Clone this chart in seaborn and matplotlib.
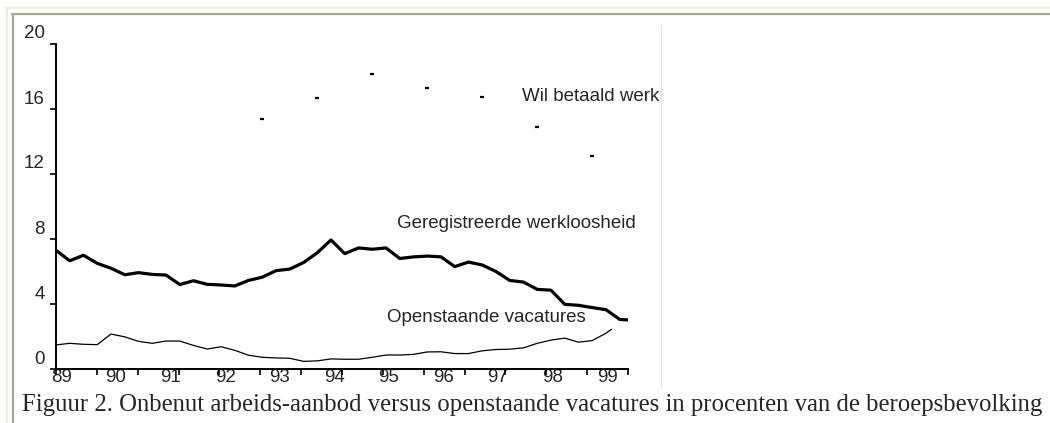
import numpy as np
import pandas as pd
import matplotlib
matplotlib.use("Agg")
import matplotlib.pyplot as plt
import matplotlib.transforms as mtransforms
from matplotlib.lines import Line2D
import seaborn as sns

# quarterly time axis (years)
quarters = [1989.0, 1989.25, 1989.5, 1989.75, 1990.0, 1990.25, 1990.5, 1990.75,
            1991.0, 1991.25, 1991.5, 1991.75, 1992.0, 1992.25, 1992.5, 1992.75,
            1993.0, 1993.25, 1993.5, 1993.75, 1994.0, 1994.25, 1994.5, 1994.75,
            1995.0, 1995.25, 1995.5, 1995.75, 1996.0, 1996.25, 1996.5, 1996.75,
            1997.0, 1997.25, 1997.5, 1997.75, 1998.0, 1998.25, 1998.5, 1998.75,
            1999.0]

# geregistreerde werkloosheid (%)
werkloos_t = quarters + [1999.25, 1999.4]
werkloos = [7.3, 6.66, 7.0, 6.5, 6.2, 5.8, 5.93, 5.82,
            5.78, 5.2, 5.43, 5.21, 5.17, 5.11, 5.45, 5.65,
            6.05, 6.15, 6.55, 7.15, 7.94, 7.1, 7.45, 7.37,
            7.45, 6.8, 6.9, 6.95, 6.9, 6.3, 6.58, 6.4,
            6.0, 5.45, 5.35, 4.9, 4.85, 3.98, 3.92, 3.78,
            3.65, 3.05, 3.02]

# openstaande vacatures (%)
vacature_t = quarters + [1999.1]
vacatures = [1.48, 1.58, 1.52, 1.5, 2.15, 1.98, 1.7, 1.58,
             1.72, 1.72, 1.45, 1.23, 1.37, 1.15, 0.85, 0.72,
             0.68, 0.66, 0.47, 0.5, 0.62, 0.6, 0.6, 0.72,
             0.86, 0.86, 0.9, 1.05, 1.06, 0.95, 0.95, 1.12,
             1.2, 1.22, 1.3, 1.58, 1.78, 1.9, 1.65, 1.75,
             2.2, 2.44]

# wil betaald werk (%), yearly points
wil_t = [1992.75, 1993.75, 1994.75, 1995.75, 1996.75, 1997.75, 1998.75]
wil = [15.38, 16.68, 18.15, 17.3, 16.74, 14.9, 13.1]

year_labels = ["89", "90", "91", "92", "93", "94", "95", "96", "97", "98", "99"]
y_ticks = [0, 4, 8, 12, 16, 20]

sns.set_theme(style="white")
plt.rcParams["font.family"] = ["Liberation Sans", "DejaVu Sans"]

fig = plt.figure(figsize=(10.5, 4.23), dpi=100)
ax = fig.add_axes([56 / 1050, 54 / 423, 572 / 1050, 325 / 423])

df_w = pd.DataFrame({"t": werkloos_t, "v": werkloos})
df_v = pd.DataFrame({"t": vacature_t, "v": vacatures})
df_p = pd.DataFrame({"t": wil_t, "v": wil})

sns.lineplot(data=df_w, x="t", y="v", ax=ax, color="black", linewidth=2.3)
sns.lineplot(data=df_v, x="t", y="v", ax=ax, color="black", linewidth=0.9)
sns.scatterplot(data=df_p, x="t", y="v", ax=ax, color="black", marker="_",
                s=9, linewidth=1.6)

ax.set_xlim(1989.0, 1999.4)
ax.set_ylim(0, 20)
ax.set_xlabel("")
ax.set_ylabel("")

sns.despine(ax=ax, top=True, right=True)
for s in ["left", "bottom"]:
    ax.spines[s].set_color("black")
    ax.spines[s].set_linewidth(1.4)

# y axis: ticks with labels shifted upwards
ax.set_yticks(y_ticks)
ax.set_yticklabels([str(v) for v in y_ticks], fontsize=13.5)
ax.tick_params(axis="y", direction="out", length=4, width=1.2, color="black",
               pad=4, left=True)
offset = mtransforms.ScaledTranslation(0, 12 / 100, fig.dpi_scale_trans)
for lab in ax.get_yticklabels():
    lab.set_transform(lab.get_transform() + offset)

# x axis: year labels without ticks, small tick marks at their own spacing
ax.set_xticks([1989.1 + i * 0.992 for i in range(len(year_labels))])
ax.set_xticklabels(year_labels, fontsize=13.5)
ax.tick_params(axis="x", which="major", length=0, pad=0, bottom=True)
ax.set_xticks(np.linspace(1989.0, 1999.4, 15), minor=True)
ax.tick_params(axis="x", which="minor", direction="out", length=4, width=1.2,
               color="black", bottom=True)

# series labels
ax.text(1995.2, 8.98, "Geregistreerde werkloosheid", fontsize=13.5,
        va="center", ha="left")
ax.text(1995.02, 3.2, "Openstaande vacatures", fontsize=13.5,
        va="center", ha="left")
ax.text(1997.47, 16.74, "Wil betaald werk", fontsize=13.5,
        va="center", ha="left", clip_on=False)

# frame lines around the picture
W, H = 1050, 423
fig.add_artist(Line2D([6 / W, 1], [1 - 8 / H, 1 - 8 / H], color="#ece9d8", lw=1.2))
fig.add_artist(Line2D([7 / W, 7 / W], [0, 1 - 8 / H], color="#ece9d8", lw=1.2))
fig.add_artist(Line2D([12 / W, 1], [1 - 14 / H, 1 - 14 / H], color="#a8a590", lw=1.6))
fig.add_artist(Line2D([13 / W, 13 / W], [0, 1 - 14 / H], color="#a8a590", lw=1.6))
fig.add_artist(Line2D([661 / W, 661 / W], [1 - 388 / H, 1 - 24 / H], color="#e6e6e6", lw=1))

# caption
fig.text(22 / W, 18 / H, "Figuur 2. Onbenut arbeids-aanbod versus openstaande vacatures "
         "in procenten van de beroepsbevolking", fontsize=17.8, va="center", ha="left",
         family=["Liberation Serif", "DejaVu Serif"])

fig.savefig("out.png", dpi=100)
